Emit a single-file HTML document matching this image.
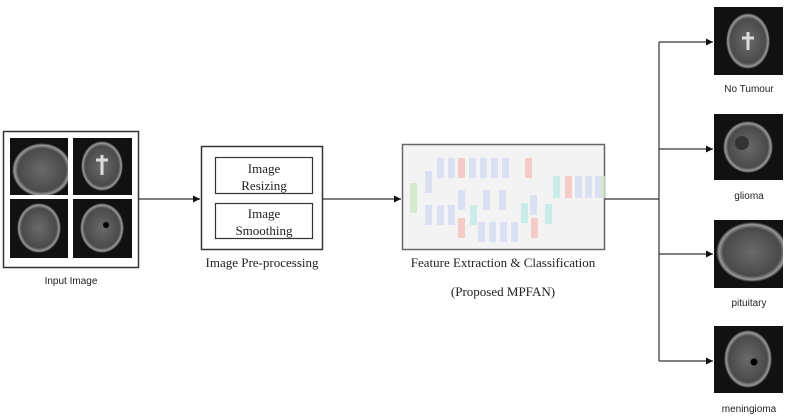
<!DOCTYPE html>
<html><head><style>
body{margin:0;background:#fff;}
svg{display:block}
.s{font-family:"Liberation Serif",serif;fill:#222}
.a{font-family:"Liberation Sans",sans-serif;fill:#222;font-size:10px}
</style></head><body>
<svg width="793" height="419" viewBox="0 0 793 419">
<defs>
<marker id="ar" markerWidth="8" markerHeight="8" refX="7" refY="4" orient="auto" markerUnits="userSpaceOnUse"><path d="M0,0.5 L7,4 L0,7.5z" fill="#111"/></marker>
<radialGradient id="br"><stop offset="0" stop-color="#6a6a6a"/><stop offset="0.8" stop-color="#4a4a4a"/><stop offset="0.92" stop-color="#999"/><stop offset="1" stop-color="#111"/></radialGradient>
<clipPath id="cp"><rect x="714" y="220" width="69" height="68"/></clipPath>
<clipPath id="cp2"><rect x="10" y="138" width="58" height="57"/></clipPath>
</defs>
<rect x="3.5" y="131.5" width="135" height="136" fill="#fff" stroke="#333" stroke-width="1.5"/>
<rect x="10" y="138" width="58" height="57" fill="#111"/>
<ellipse cx="42" cy="170" rx="30" ry="27" fill="url(#br)" clip-path="url(#cp2)"/>
<rect x="73" y="138" width="59" height="57" fill="#111"/>
<ellipse cx="102" cy="166" rx="21" ry="25" fill="url(#br)"/>
<path d="M96,160 L108,160 M102,155 L102,175" stroke="#ddd" stroke-width="3"/>
<rect x="10" y="199" width="58" height="59" fill="#111"/>
<ellipse cx="39" cy="228" rx="22" ry="25" fill="url(#br)"/>
<rect x="73" y="199" width="59" height="59" fill="#111"/>
<ellipse cx="102" cy="228" rx="22" ry="25" fill="url(#br)"/>
<circle cx="106" cy="225" r="3" fill="#000"/>
<text class="a" x="71" y="284" text-anchor="middle">Input Image</text>
<line x1="139" y1="199" x2="200" y2="199" stroke="#333" stroke-width="1.2" marker-end="url(#ar)"/>
<rect x="201.5" y="146.5" width="121" height="103" fill="#fff" stroke="#333" stroke-width="1.5"/>
<rect x="215.5" y="157.5" width="97" height="36" fill="#fff" stroke="#333" stroke-width="1.2"/>
<rect x="215.5" y="203.5" width="97" height="35" fill="#fff" stroke="#333" stroke-width="1.2"/>
<text class="s" x="264" y="173" font-size="13" text-anchor="middle">Image</text>
<text class="s" x="264" y="190" font-size="13" text-anchor="middle">Resizing</text>
<text class="s" x="264" y="218" font-size="13" text-anchor="middle">Image</text>
<text class="s" x="264" y="235" font-size="13" text-anchor="middle">Smoothing</text>
<text class="s" x="262" y="267" font-size="13" text-anchor="middle">Image Pre-processing</text>
<line x1="323" y1="199" x2="401" y2="199" stroke="#333" stroke-width="1.2" marker-end="url(#ar)"/>
<rect x="402.5" y="144.5" width="202" height="105" fill="#f3f3f3" stroke="#666" stroke-width="1.5"/>
<g opacity="0.85">
<rect x="410" y="183" width="7" height="30" fill="#cfe8c8"/>
<rect x="425" y="171" width="7" height="22" fill="#d6def2"/>
<g fill="#d6def2">
<rect x="437" y="158" width="7" height="20"/><rect x="448" y="158" width="7" height="20"/>
<rect x="469" y="158" width="7" height="20"/><rect x="480" y="158" width="7" height="20"/><rect x="491" y="158" width="7" height="20"/><rect x="502" y="158" width="7" height="20"/>
<rect x="425" y="205" width="7" height="20"/><rect x="437" y="205" width="7" height="20"/><rect x="448" y="205" width="7" height="20"/>
<rect x="458" y="190" width="7" height="20"/><rect x="483" y="190" width="7" height="20"/><rect x="499" y="190" width="7" height="20"/>
<rect x="478" y="222" width="7" height="20"/><rect x="489" y="222" width="7" height="20"/><rect x="500" y="222" width="7" height="20"/><rect x="511" y="222" width="7" height="20"/>
<rect x="530" y="195" width="7" height="20"/>
<rect x="575" y="176" width="7" height="22"/><rect x="585" y="176" width="7" height="22"/><rect x="595" y="176" width="7" height="22"/>
</g>
<g fill="#f4c6c0">
<rect x="458" y="158" width="7" height="20"/><rect x="525" y="158" width="7" height="20"/>
<rect x="458" y="218" width="7" height="20"/><rect x="531" y="218" width="7" height="20"/><rect x="565" y="176" width="7" height="22"/>
</g>
<g fill="#c4ece8">
<rect x="470" y="205" width="7" height="20"/><rect x="521" y="203" width="7" height="20"/><rect x="545" y="204" width="7" height="20"/><rect x="553" y="176" width="7" height="22"/>
</g>
<rect x="601" y="176" width="4" height="22" fill="#cfe8c8"/>
</g>
<text class="s" x="503" y="267" font-size="13" text-anchor="middle">Feature Extraction &amp; Classification</text>
<text class="s" x="503" y="296" font-size="13" text-anchor="middle">(Proposed MPFAN)</text>
<path d="M605,199 H659 M659,42 V361" stroke="#333" stroke-width="1.2" fill="none"/>
<line x1="659" y1="42" x2="713" y2="42" stroke="#333" stroke-width="1.2" marker-end="url(#ar)"/>
<line x1="659" y1="149" x2="713" y2="149" stroke="#333" stroke-width="1.2" marker-end="url(#ar)"/>
<line x1="659" y1="254" x2="713" y2="254" stroke="#333" stroke-width="1.2" marker-end="url(#ar)"/>
<line x1="659" y1="361" x2="713" y2="361" stroke="#333" stroke-width="1.2" marker-end="url(#ar)"/>
<rect x="714" y="7" width="69" height="68" fill="#111"/>
<ellipse cx="748" cy="41" rx="22" ry="28" fill="url(#br)"/>
<path d="M742,38 L754,38 M748,32 L748,50" stroke="#ddd" stroke-width="3"/>
<rect x="714" y="114" width="69" height="66" fill="#111"/>
<ellipse cx="748" cy="147" rx="25" ry="26" fill="url(#br)"/>
<circle cx="742" cy="143" r="7" fill="#333"/>
<rect x="714" y="220" width="69" height="68" fill="#111"/>
<ellipse cx="752" cy="252" rx="36" ry="30" fill="url(#br)" clip-path="url(#cp)"/>
<rect x="714" y="326" width="69" height="67" fill="#111"/>
<ellipse cx="748" cy="359" rx="24" ry="29" fill="url(#br)"/>
<circle cx="754" cy="362" r="3.5" fill="#000"/>
<text class="a" x="749" y="92" text-anchor="middle">No Tumour</text>
<text class="a" x="749" y="199" text-anchor="middle">glioma</text>
<text class="a" x="749" y="306" text-anchor="middle">pituitary</text>
<text class="a" x="749" y="412" text-anchor="middle">meningioma</text>
</svg>
</body></html>
